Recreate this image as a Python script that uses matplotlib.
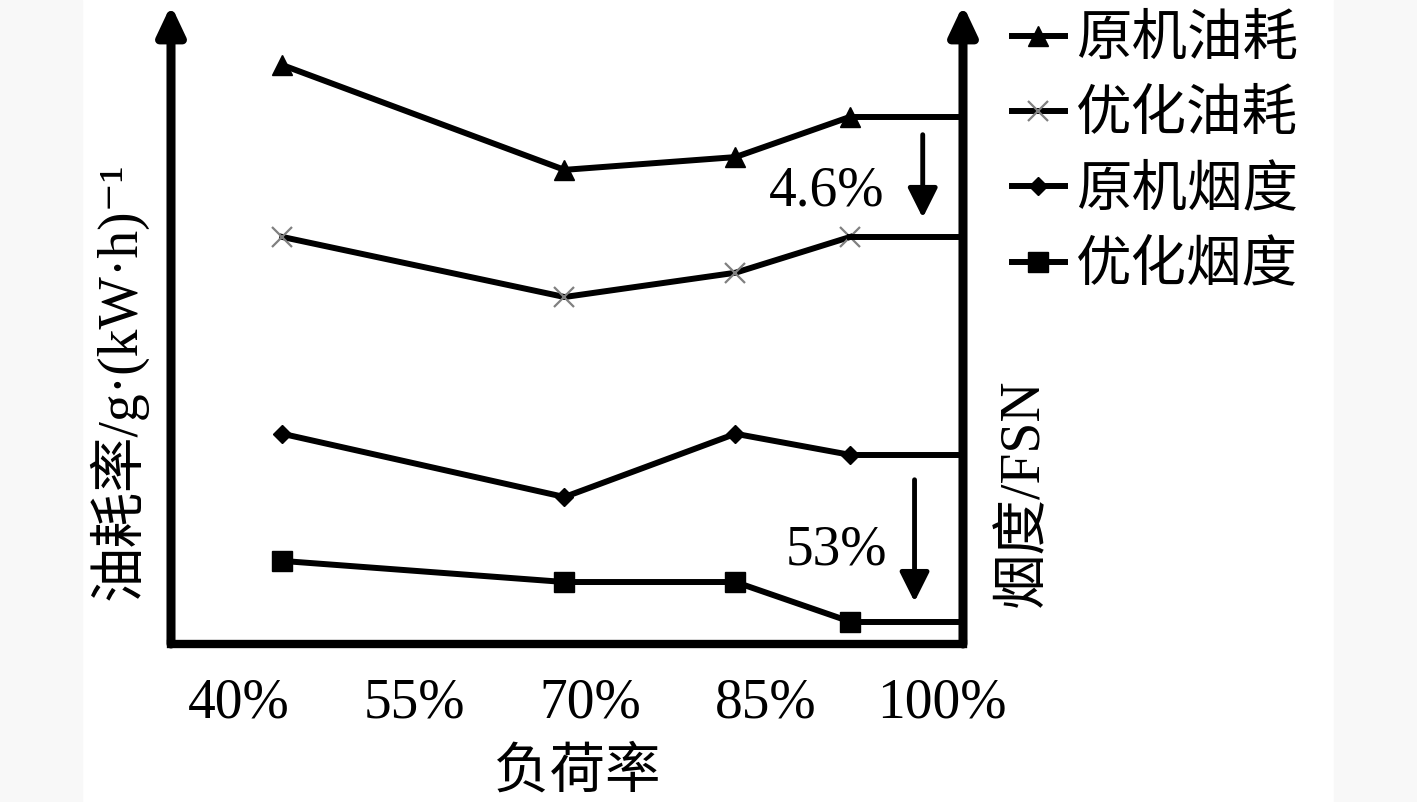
import matplotlib
matplotlib.use("Agg")
import matplotlib.pyplot as plt
from matplotlib.patches import Rectangle

plt.rcParams['font.family'] = ['Liberation Serif', 'Noto Sans CJK SC', 'DejaVu Sans']

# load rate (%) of each operating point, and the tick labels
load = [43.7, 67.8, 82.4, 92.2]
load_end = 101.2
ticks = [40, 55, 70, 85, 100]
tick_labels = ['40%', '55%', '70%', '85%', '100%']

# relative values (no scale printed on the axes)
fuel_orig = [90.6, 74.2, 76.2, 82.5]
fuel_opt = [63.7, 54.3, 58.1, 63.7]
smoke_orig = [32.9, 23.0, 32.9, 29.6]
smoke_opt = [13.0, 9.7, 9.7, 3.5]

names = ['原机油耗', '优化油耗', '原机烟度', '优化烟度']

W, H = 1417, 802
fig = plt.figure(figsize=(W / 100, H / 100), dpi=100)
fig.patch.set_facecolor('white')
# grey side strips of the scanned page
fig.add_artist(Rectangle((0, 0), 82 / W, 1, transform=fig.transFigure,
                         color='#f8f8f8', zorder=0))
fig.add_artist(Rectangle((1334 / W, 0), 1 - 1334 / W, 1, transform=fig.transFigure,
                         color='#f8f8f8', zorder=0))

ax = fig.add_axes([171 / W, 1 - 644 / H, (963 - 171) / W, (644 - 5) / H])
ax.set_facecolor('none')

lw = 4.3
ax.plot(load, fuel_orig, color='black', lw=lw, marker='^', ms=14, label=names[0])
ax.plot(load, fuel_opt, color='black', lw=lw, marker='x', ms=14, mew=1.6,
        mec='#808080', label=names[1])
ax.plot(load, smoke_orig, color='black', lw=lw, marker='D', ms=9, label=names[2])
ax.plot(load, smoke_opt, color='black', lw=lw, marker='s', ms=15, label=names[3])

# flat lines running out from the last point to the right axis
for s in [fuel_orig, fuel_opt, smoke_orig, smoke_opt]:
    ax.plot([load[-1], load_end], [s[-1], s[-1]], color='black', lw=lw)

ax.set_xlim(34.19, 101.84)
ax.set_ylim(0, 100)
ax.set_xticks(ticks)
ax.set_xticklabels(tick_labels, fontsize=40)
ax.set_yticks([])
ax.tick_params(axis='x', length=0, pad=24)

for side in ['left', 'right', 'top']:
    ax.spines[side].set_visible(False)
ax.spines['bottom'].set_linewidth(6)

# the two vertical axes with arrow heads
for xa in [0, 1]:
    ax.annotate('', xy=(xa, 1), xytext=(xa, 0), xycoords='axes fraction',
                arrowprops=dict(arrowstyle='-|>,head_length=0.7,head_width=0.33',
                                lw=6.5, color='black', mutation_scale=25,
                                shrinkA=0, shrinkB=0))

# reduction arrows and percentages
ax.annotate('', xy=(98.4, 66.7), xytext=(98.4, 79.7),
            arrowprops=dict(arrowstyle='-|>,head_length=0.9,head_width=0.45',
                            lw=3.5, color='black', mutation_scale=20,
                            shrinkA=0, shrinkB=0))
ax.annotate('', xy=(97.7, 6.6), xytext=(97.7, 25.7),
            arrowprops=dict(arrowstyle='-|>,head_length=0.9,head_width=0.45',
                            lw=3.5, color='black', mutation_scale=20,
                            shrinkA=0, shrinkB=0))
ax.text(90.2, 68.7, '4.6%', fontsize=40, ha='center', va='baseline')
ax.text(91.0, 12.4, '53%', fontsize=40, ha='center', va='baseline')

fig.text(118 / W, 1 - 381 / H, '油耗率/g·(kW·h)⁻¹', fontsize=40, rotation=90,
         ha='center', va='center')
fig.text(1024 / W, 1 - 493 / H, '烟度/FSN', fontsize=40, rotation=90,
         ha='center', va='center')
fig.text(577 / W, 1 - 774 / H, '负荷率', fontsize=40, ha='center', va='center')

fig.legend(loc='upper left', bbox_to_anchor=(1012 / W, 1 - 15 / H), frameon=False,
           fontsize=40, handlelength=0.95, handletextpad=0.2, labelspacing=0.42,
           borderpad=0, borderaxespad=0)

fig.savefig('out.png', dpi=100)
